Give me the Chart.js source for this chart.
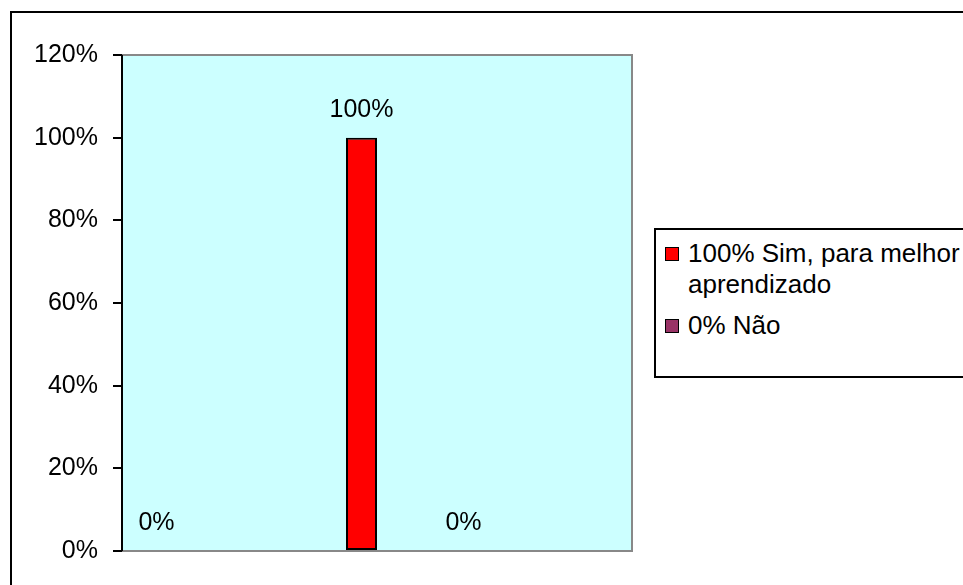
<!DOCTYPE html>
<html>
<head>
<meta charset="utf-8">
<script src="https://cdn.jsdelivr.net/npm/chart.js@4/dist/chart.umd.min.js"></script>
<style>
  html, body { margin: 0; padding: 0; background: #fff; overflow: hidden; }
  body { width: 963px; height: 585px; position: relative; font-family: "Liberation Sans", Arial, sans-serif; }
  #moldura { position: absolute; left: 10px; top: 11px; width: 1000px; height: 650px; border: 2px solid #000; }
  #grafico { position: absolute; left: 0; top: 0; }
  #legenda { position: absolute; left: 654px; top: 228px; width: 330px; height: 146px; border: 2px solid #000; background: #fff; }
  .item { position: absolute; left: 8px; font-size: 26px; line-height: 31px; color: #000; }
  .item i { position: absolute; left: 1px; top: 9px; width: 12px; height: 12px; border: 1.5px solid #000; }
  .item span { display: block; margin-left: 24px; }
</style>
</head>
<body>
<div id="moldura"></div>
<canvas id="grafico" width="963" height="585"></canvas>
<div id="legenda"></div>
<script>
// dados
const categorias = [""];
const seriesNomes = ["100% Sim, para melhor\naprendizado", "0% Não"];
const valoresSim = [100];
const valoresNao = [0];
const ticksY = [0, 20, 40, 60, 80, 100, 120];
const cores = ["#FF0000", "#993366"];

// fundo e borda da area de plotagem
const areaPlot = {
  id: "areaPlot",
  beforeDraw(chart) {
    const { ctx, chartArea: a } = chart;
    ctx.save();
    ctx.fillStyle = "#CCFFFF";
    ctx.fillRect(a.left, a.top, a.right - a.left, a.bottom - a.top);
    ctx.restore();
  },
  afterDraw(chart) {
    const { ctx, chartArea: a } = chart;
    ctx.save();
    ctx.strokeStyle = "#888";
    ctx.lineWidth = 2;
    ctx.beginPath();
    ctx.moveTo(a.left, a.top);
    ctx.lineTo(a.right, a.top);
    ctx.lineTo(a.right, a.bottom);
    ctx.lineTo(a.left, a.bottom);
    ctx.stroke();
    ctx.strokeStyle = "#000";
    ctx.beginPath();
    ctx.moveTo(a.left, a.top);
    ctx.lineTo(a.left, a.bottom);
    ctx.stroke();
    ctx.restore();
  }
};

// rotulos de valor (no excel foram arrastados)
const rotulos = {
  id: "rotulos",
  afterDatasetsDraw(chart, args, opts) {
    const { ctx } = chart;
    ctx.save();
    ctx.font = "25px 'Liberation Sans', Arial, sans-serif";
    ctx.fillStyle = "#000";
    ctx.textAlign = "center";
    ctx.textBaseline = "middle";
    chart.data.datasets.forEach((ds, i) => {
      const meta = chart.getDatasetMeta(i);
      meta.data.forEach((bar, j) => {
        const txt = ds.data[j] + "%";
        (opts.desloc[i] || [[0, -28]]).forEach(d => {
          ctx.fillText(txt, bar.x + d[0], bar.y + d[1]);
        });
      });
    });
    ctx.restore();
  }
};

new Chart(document.getElementById("grafico"), {
  type: "bar",
  data: {
    labels: categorias,
    datasets: [{
      label: seriesNomes[0],
      data: valoresSim,
      backgroundColor: cores[0],
      borderColor: "#000",
      borderWidth: 2,
      borderSkipped: false
    }, {
      label: seriesNomes[1],
      data: valoresNao,
      backgroundColor: cores[1],
      borderColor: "#000",
      borderWidth: 0
    }]
  },
  options: {
    responsive: false,
    animation: false,
    layout: { padding: { left: 0, top: 55, right: 331, bottom: 34 } },
    categoryPercentage: 31 / 255,
    barPercentage: 1,
    scales: {
      x: {
        ticks: { display: false },
        grid: { display: false },
        border: { display: false },
        afterFit: s => { s.height = 0; }
      },
      y: {
        min: 0,
        max: 120,
        afterBuildTicks: s => { s.ticks = ticksY.map(v => ({ value: v })); },
        ticks: {
          callback: v => v + "%",
          color: "#000",
          padding: 15,
          font: { family: "'Liberation Sans', Arial, sans-serif", size: 25 }
        },
        grid: { drawOnChartArea: false, drawTicks: true, tickLength: 9, color: "#000", lineWidth: 2 },
        border: { color: "#000", width: 2 },
        afterFit: s => { s.width = 122; }
      }
    },
    plugins: {
      legend: { display: false },
      tooltip: { enabled: false },
      rotulos: { desloc: [[[0, -28]], [[-236, -28], [71, -28]]] }
    }
  },
  plugins: [areaPlot, rotulos]
});

// legenda em html (texto com quebra)
const leg = document.getElementById("legenda");
const topos = [8, 80];
seriesNomes.forEach((nome, i) => {
  const d = document.createElement("div");
  d.className = "item";
  d.style.top = topos[i] + "px";
  d.innerHTML = '<i style="background:' + cores[i] + '"></i><span>' + nome.replace("\n", "<br>") + "</span>";
  leg.appendChild(d);
});
</script>
</body>
</html>
